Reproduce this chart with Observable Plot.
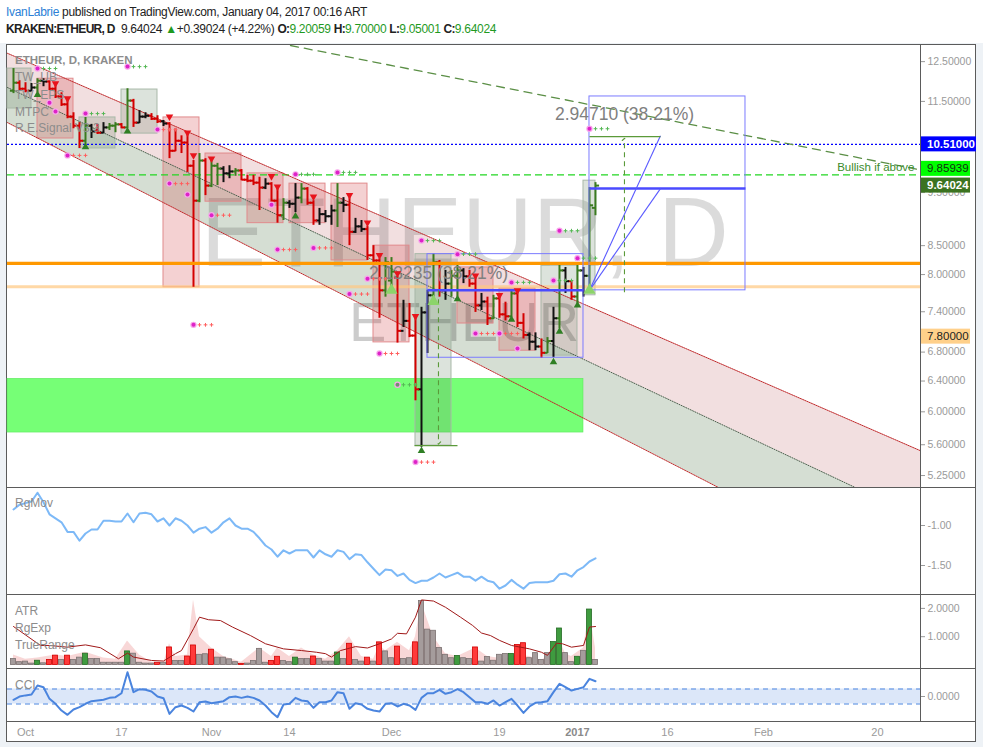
<!DOCTYPE html>
<html>
<head>
<meta charset="utf-8">
<script src="https://cdn.jsdelivr.net/npm/d3@7"></script>
<script src="https://cdn.jsdelivr.net/npm/@observablehq/plot@0.6"></script>
<style>
html,body{margin:0;padding:0;background:#fff;}
#page{position:relative;width:983px;height:747px;overflow:hidden;background:#eef2f6;font-family:"Liberation Sans",Arial,sans-serif;}
#head{position:absolute;left:0;top:0;width:983px;height:43px;background:#fff;}
.hl{position:absolute;left:6px;white-space:nowrap;font-size:12px;color:#222;letter-spacing:-0.3px;}
.hl b{font-weight:bold;letter-spacing:-0.7px;}
.gv{color:#1f9a1f;}
#frame{position:absolute;left:6px;top:44px;width:970px;height:698px;box-sizing:border-box;border:1px solid #5b5b5b;background:#fff;}
.pane{position:absolute;left:6px;}
.hsep{position:absolute;left:6px;width:970px;height:1px;background:#5b5b5b;}
.vsep{position:absolute;left:920px;width:1px;background:#5b5b5b;}
.lg{position:absolute;left:15px;font-size:12px;color:#8c8c8c;white-space:nowrap;line-height:14px;}
</style>
</head>
<body>
<div id="page">
  <div id="head">
    <div class="hl" style="top:5px"><span style="color:#2b7fd6">IvanLabrie</span> published on TradingView.com, January 04, 2017 00:16 ART</div>
    <div class="hl" style="top:22px"><b>KRAKEN:ETHEUR, D</b>&nbsp; 9.64024 <span class="gv">&#9650;</span>+0.39024 (+4.22%) <b>O:</b><span class="gv">9.20059</span> <b>H:</b><span class="gv">9.70000</span> <b>L:</b><span class="gv">9.05001</span> <b>C:</b><span class="gv">9.64024</span></div>
  </div>
  <div id="frame"></div>
</div>
<script>
// ---------------- DATA ----------------
const FIRST_BAR = "2016-09-29";           // first daily bar
const barOpen = [
11.76,11.96,11.81,11.76,11.84,12.01,11.99,11.81,11.62,11.43,
11.14,10.93,10.59,10.93,10.80,10.77,10.89,10.93,10.96,10.89,
11.52,11.00,11.14,11.16,11.09,11.03,10.98,10.37,10.59,10.55,
10.05,9.34,10.16,9.64,10.05,9.99,9.89,9.93,9.95,9.76,
9.74,9.70,9.60,9.68,9.34,9.06,9.30,9.28,9.40,9.58,
9.30,8.96,9.08,9.04,9.15,9.30,9.26,8.75,8.85,8.80,
8.33,8.24,7.74,7.90,7.95,7.11,7.26,7.04,6.29,7.39,
7.66,8.21,7.74,7.85,7.98,8.07,7.97,7.85,7.50,7.56,
7.30,7.61,7.36,7.33,7.69,7.23,7.05,6.95,6.88,6.79,
6.96,7.30,8.07,7.89,7.64,8.07,7.98,9.20059];
const barHigh = [
12.32,12.01,11.96,11.94,12.06,12.06,12.01,11.94,11.71,11.57,
11.23,11.00,11.12,10.96,10.96,11.00,10.98,11.00,10.98,11.81,
11.55,11.28,11.23,11.21,11.16,11.05,11.00,10.86,10.70,10.75,
10.16,10.31,10.20,10.20,10.10,10.03,10.05,9.99,9.97,9.85,
9.85,9.81,9.78,9.70,9.58,9.38,9.34,9.68,9.68,9.60,
9.34,9.19,9.15,9.25,9.68,9.40,9.40,9.00,8.96,8.85,
8.50,8.27,8.29,8.29,7.97,7.58,7.53,7.31,7.47,7.74,
8.36,8.24,8.07,8.07,8.19,8.10,8.07,7.95,7.69,7.63,
7.66,7.63,7.55,7.74,7.71,7.37,7.08,7.08,6.99,7.01,
7.47,8.19,8.12,7.90,8.19,8.12,9.60,9.70];
const barLow = [
11.69,11.76,11.71,11.74,11.71,11.86,11.76,11.57,11.38,11.09,
10.86,10.42,10.48,10.64,10.73,10.75,10.82,10.77,10.86,10.86,
10.89,10.98,11.09,11.05,10.98,10.91,10.20,10.35,10.31,9.91,
7.79,9.30,9.44,9.60,9.64,9.70,9.78,9.83,9.74,9.70,
9.64,9.15,9.56,9.25,8.91,8.96,9.19,9.11,9.28,9.25,
8.87,8.87,8.92,8.87,8.83,9.11,8.50,8.72,8.74,8.24,
8.15,7.30,7.63,7.79,6.93,7.16,7.01,6.14,5.57,6.78,
7.63,7.63,7.58,7.63,7.63,7.85,7.79,7.39,7.42,7.19,
7.28,7.30,7.26,7.31,7.16,6.99,6.82,6.82,6.71,6.78,
6.72,7.14,7.69,7.58,7.53,7.63,7.72,9.05001];
const barClose = [
11.96,11.81,11.76,11.84,12.01,11.99,11.81,11.62,11.43,11.14,
10.93,10.59,10.93,10.80,10.77,10.89,10.93,10.96,10.89,11.52,
11.00,11.14,11.16,11.09,11.03,10.98,10.37,10.59,10.55,10.05,
9.34,10.16,9.64,10.05,9.99,9.89,9.93,9.95,9.76,9.74,
9.70,9.60,9.68,9.34,9.06,9.30,9.28,9.40,9.58,9.30,
8.96,9.08,9.04,9.15,9.30,9.26,8.75,8.85,8.80,8.33,
8.24,7.74,8.21,8.05,7.11,7.26,7.04,6.29,7.39,7.66,
8.21,7.74,7.85,7.98,8.07,7.97,7.85,7.50,7.56,7.30,
7.61,7.36,7.33,7.69,7.23,7.05,6.95,6.88,6.79,6.96,
7.30,8.07,7.89,7.64,8.07,7.98,9.25,9.64024];
const barColor = [
"g","r","r","k","g","k","r","r","r","r",
"r","r","g","k","r","k","g","g","r","g",
"r","k","k","r","r","k","r","r","r","r",
"r","g","r","g","g","k","k","g","r","r",
"r","r","k","r","r","g","k","k","g","r",
"r","k","k","k","g","k","r","k","k","r",
"r","r","g","g","r","k","r","r","k","k",
"g","r","k","g","g","k","r","r","k","r",
"g","r","r","g","r","r","k","k","r","g",
"k","g","k","r","g","k","g","g"];

// RgMov indicator (one value per bar)
const rgMov = [
-0.80,-0.74,-0.72,-0.70,-0.59,-0.71,-0.86,-0.91,-0.96,-1.08,
-1.08,-1.19,-1.10,-1.05,-1.05,-0.94,-0.94,-0.95,-0.95,-0.85,
-0.96,-0.85,-0.84,-0.86,-0.95,-0.91,-1.00,-0.91,-0.94,-1.00,
-1.09,-1.04,-1.02,-1.09,-1.04,-0.96,-0.91,-1.00,-1.04,-1.04,
-1.08,-1.16,-1.25,-1.30,-1.39,-1.31,-1.35,-1.31,-1.31,-1.31,
-1.40,-1.31,-1.36,-1.39,-1.31,-1.33,-1.42,-1.36,-1.37,-1.46,
-1.54,-1.62,-1.55,-1.56,-1.63,-1.60,-1.68,-1.72,-1.69,-1.69,
-1.65,-1.60,-1.65,-1.62,-1.59,-1.64,-1.64,-1.69,-1.64,-1.69,
-1.71,-1.79,-1.75,-1.68,-1.74,-1.79,-1.72,-1.71,-1.71,-1.71,
-1.69,-1.61,-1.60,-1.64,-1.56,-1.52,-1.45,-1.41];

// True range histogram
const trueRange = [
0.21,0.10,0.12,0.05,0.15,0.06,0.18,0.33,0.18,0.33,
0.18,0.26,0.40,0.21,0.21,0.08,0.08,0.08,0.08,0.48,
0.40,0.08,0.05,0.05,0.08,0.08,0.62,0.14,0.14,0.30,
0.69,0.36,0.38,0.54,0.26,0.26,0.20,0.10,0.04,0.05,
0.14,0.57,0.08,0.14,0.29,0.14,0.10,0.26,0.21,0.21,
0.30,0.21,0.12,0.12,0.44,0.21,0.75,0.18,0.12,0.26,
0.12,0.80,0.48,0.24,0.65,0.21,0.24,0.80,2.26,1.25,
1.21,0.60,0.36,0.24,0.32,0.24,0.21,0.62,0.12,0.28,
0.15,0.36,0.39,0.39,0.71,0.77,0.24,0.42,0.18,0.42,
0.81,1.29,0.42,0.10,0.29,0.50,1.96,0.18];
const trRedBars = [6,7,9,24,26,29,30,33,38,43,44,50,56,59,61,64,67,77,84,85];
const trGreenBars = [4,12,19,47,54,74,83,90,91,94,96];
// RgExp area: [bar index, value]
const rgExpPts = [[0,0.35],[2,0.2],[4,0.25],[7,0.35],[9,0.3],[12,0.45],[15,0.25],[17,0.2],[19,0.85],[21,0.35],[23,0.1],[25,0.05],[26,0.75],[27,0.3],[29,0.35],[30,2.3],[31,1.0],[33,0.6],[35,0.3],[38,0.1],[41,0.6],[43,0.3],[44,0.6],[46,0.3],[48,0.6],[50,0.35],[52,0.2],[54,0.5],[56,1.0],[58,0.3],[60,0.2],[61,0.7],[62,0.5],[64,0.8],[66,0.5],[67,1.0],[68,2.2],[70,1.0],[72,0.4],[74,0.3],[77,0.6],[79,0.3],[82,0.2],[84,0.35],[86,0.3],[88,0.15],[90,0.5],[91,0.9],[92,0.4],[93,0.3],[95,0.6],[96,1.9],[97,0.6]];
// ATR line: [bar index, value]
const atrPts = [[0,1.36],[4.5,0.69],[6,0.69],[9,0.63],[12,0.71],[14.5,0.61],[17.5,0.22],[19,0.42],[20,0.28],[23,0.16],[25,0.14],[27,0.40],[28,0.51],[30,1.28],[31,1.69],[32.5,1.60],[34.5,1.57],[36.5,1.34],[39.5,1.04],[42,0.75],[45,0.57],[48,0.51],[50.5,0.45],[52,0.40],[53,0.28],[54.5,0.51],[57,0.65],[59,0.60],[61,0.75],[63,0.92],[64,1.12],[65.5,1.10],[67,1.69],[68,2.30],[70,2.26],[72,2.04],[74.5,1.69],[76.5,1.40],[78,1.13],[79.5,1.04],[81,0.87],[83,0.69],[84.5,0.63],[86,0.57],[88,0.45],[89,0.34],[90.5,0.77],[91.5,0.75],[93,0.63],[95,0.69],[96,1.34],[97,1.36]];

// CCI (one value per bar)
const cci = [
-44,0,15,27,147,124,-31,-97,-187,-244,
-173,-142,-97,-62,-53,-44,-18,-9,44,324,
58,98,89,67,0,-22,-231,-142,-120,-151,
-200,-76,-67,-89,-76,-62,-9,0,-18,0,
-18,-53,-120,-209,-276,-107,-97,-18,-53,-62,
-151,-76,-76,-53,58,44,-164,-89,-107,-164,
-187,-200,-97,-89,-133,-97,-120,-178,-18,44,
44,89,36,58,98,58,-9,-76,-76,-97,
-53,-120,-76,-31,-120,-218,-133,-84,-76,-62,
58,169,124,80,102,124,236,204];

// axes (10.5 and 7.0 sit under the coloured price labels, 9.5 peeks out below one)
const priceTicks = [12.5, 11.5, 9.5, 8.5, 8.0, 7.4, 6.8, 6.4, 6.0, 5.6, 5.25];
const xTickDates = ["2016-10-01","2016-10-17","2016-11-01","2016-11-14","2016-12-01","2016-12-19","2017-01-01","2017-01-16","2017-02-01","2017-02-20"];
const xTickLabels = ["Oct","17","Nov","14","Dec","19","2017","16","Feb","20"];
const rgMovTicks = [-1.0, -1.5];
const atrTicks = [1, 2];
const cciTicks = [0];

// price scale labels
const priceLabelText = ["10.51000", "9.85939", "9.64024", "7.80000"];
const priceLabelValue = [10.51, 9.85939, 9.64024, 7.8];

// horizontal levels
const levelOrange = 8.19, levelOrangeFaint = 7.8, levelBlue = 10.51, levelGreen = 9.85939;
// support zone (bar index range, price range)
const zone = {from: -1, to: 95, top: 6.43, bottom: 5.745};
// regression channel: [bar index, upper, middle, lower]
const channelPts = [[-1, 12.72, 11.84, 11.00], [151.17, 5.53, 4.80, 4.12]];
// descending trend line: [bar index, price]
const trendPts = [[46.17, 12.93], [150.83, 9.97]];
// indicator boxes: [from bar, to bar, top, bottom, kind]
const boxes = [
[-1,3,12.32,11.33,"g"],[4,10,12.06,10.64,"p"],[11,17,11.12,10.42,"g"],[18,24,11.79,10.75,"g"],
[25,31,11.12,7.79,"p"],[32,38,10.31,9.32,"p"],[39,45,9.89,8.91,"p"],[46,52,9.68,8.91,"p"],
[53,59,9.68,8.24,"p"],[60,66,8.50,6.94,"p"],[67,73,8.35,5.59,"g"],[74,80,8.12,7.22,"p"],
[81,87,7.77,6.82,"p"],[88,94,8.15,6.75,"g"],[95,97,9.74,7.66,"g"]];
// signals: [bar index, price, plus colour]
const signals = [[4,12.32,"g"],[19,12.37,"g"],[6,11.47,""],[7,11.26,""],[9,10.27,"r"],[12,11.21,"g"],[24,10.84,"r"],[26,9.68,"r"],[29,9.46,""],[30,7.20,"r"],[33,9.06,"r"],[43,9.26,""],[44,8.43,"r"],[47,9.87,"g"],[50,8.46,"r"],[54,9.91,"g"],[56,7.68,"r"],[59,7.93,"r"],[61,6.78,"r"],[64,6.35,"g"],[67,5.40,"r"],[68,8.59,"g"],[74,8.35,"g"],[77,7.07,"r"],[81,7.07,"r"],[83,7.87,"g"],[84,6.85,""],[90,7.90,"g"],[91,8.77,"g"],[94,8.28,"g"],[96,10.86,"g"]];
const triDown = [[7,11.94],[9,11.57],[26,11.14],[29,10.77],[30,10.27],[33,10.20],[43,9.83],[44,9.62],[50,9.42],[56,9.45],[59,8.92],[61,8.33],[64,8.02],[67,7.33],[77,7.98],[81,7.66],[84,7.74]];
const triUp = [[4,11.66],[12,10.45],[19,10.80],[47,9.04],[68,5.53],[74,7.60],[83,7.28],[90,6.66],[91,7.10],[94,7.50]];
const triUpBig = [[63,7.74],[70,7.56],[96,7.74]];
// price-range measurement tools
const measureBoxes = [[69, 95, 8.35, 6.72], [96, 122, 11.62, 7.74]];
const measureMid = [[69, 95, 7.74], [96, 122, 9.58]];
const measureDiag = [[96, 7.74, 107.83, 10.70], [96, 7.74, 107.83, 9.58]];
const measureTargetLine = [[96, 107.83, 10.68], [66.83, 74, 5.59]];
const measureArrow = [[101.83, 7.71, 10.62], [70.83, 7.74, 5.62]];
const measureText = [[101.83, 11.05, "2.94710 (38.21%)"], [70.83, 7.93, "2.13235 (38.21%)"]];
const watermark = [[75.2, 8.15, "ETHEUR, D", 98], [75.1, 6.96, "ETHEUR", 56]];

// ---------------- HELPERS ----------------
const DAY = 864e5;
const T0 = +new Date(FIRST_BAR + "T00:00:00Z");
const dt = i => new Date(T0 + i * DAY);
const X0 = dt(-1), X1 = dt(151.17);
const FONT = '"Liberation Sans", Arial, sans-serif';
const BAR_COL = {g: "#3a7b1f", r: "#d40000", k: "#111111"};
const page = document.getElementById("page");
function place(el, top) {
  const w = document.createElement("div");
  w.className = "pane"; w.style.top = top + "px";
  w.appendChild(el); page.appendChild(w); return el;
}
const common = {width: 970, marginTop: 0, marginBottom: 0, marginLeft: 1, marginRight: 56};
const xOpt = {type: "utc", domain: [X0, X1], axis: null};

// ---------------- MAIN PRICE PANE ----------------
const bars = barOpen.map((o, i) => ({date: dt(i), open: o, high: barHigh[i], low: barLow[i], close: barClose[i], col: BAR_COL[barColor[i]]}));
const chan = channelPts.map(d => ({date: dt(d[0]), upper: d[1], middle: d[2], lower: d[3]}));
const plusPts = signals.filter(s => s[2]).flatMap(s => [1, 2, 3].map(k => ({date: dt(s[0] + k), p: s[1], c: s[2] === "g" ? "#55b855" : "#ff6060"})));
const TICK = 0.6 * DAY;

const main = place(Plot.plot({
  ...common, height: 442,
  style: {background: "transparent", color: "#9a9a9a", fontFamily: FONT, fontSize: "10.5px", overflow: "visible"},
  x: xOpt,
  y: {type: "log", domain: [5.12, 12.93], axis: "right", ticks: priceTicks, tickFormat: d => d.toFixed(5), tickSize: 4, tickPadding: 3, label: null},
  color: {type: "identity"},
  marks: [
    Plot.areaY(chan, {x: "date", y1: "upper", y2: "middle", fill: "#be5f64", fillOpacity: 0.2, clip: true}),
    Plot.areaY(chan, {x: "date", y1: "middle", y2: "lower", fill: "#577b4f", fillOpacity: 0.25, clip: true}),
    Plot.rect([zone], {x1: d => dt(d.from), x2: d => dt(d.to), y1: "top", y2: "bottom", fill: "#70ff70", fillOpacity: 0.96, stroke: "#5ee85e", strokeWidth: 0.6}),
    Plot.text(watermark.slice(0, 1), {x: d => dt(d[0]), y: d => d[1], text: d => d[2], fontSize: 98, lineAnchor: "bottom", fill: "#000", fillOpacity: 0.14, fontFamily: FONT}),
    Plot.text(watermark.slice(1), {x: d => dt(d[0]), y: d => d[1], text: d => d[2], fontSize: 56, lineAnchor: "bottom", fill: "#000", fillOpacity: 0.2, fontFamily: FONT}),
    Plot.rect(boxes, {x1: d => dt(d[0]), x2: d => dt(d[1]), y1: d => d[2], y2: d => d[3],
      fill: d => d[4] === "p" ? "#d33f43" : "#5f7f5f", fillOpacity: d => d[4] === "p" ? 0.24 : 0.22,
      stroke: d => d[4] === "p" ? "#e08a8c" : "#a8b8a8", strokeWidth: 1}),
    Plot.ruleY([levelOrangeFaint], {stroke: "#ffc880", strokeWidth: 3, strokeOpacity: 0.7}),
    Plot.ruleY([levelBlue], {stroke: "#0000ff", strokeWidth: 1.2, strokeDasharray: "2,2"}),
    Plot.ruleY([levelGreen], {stroke: "#22d622", strokeWidth: 1.3, strokeDasharray: "7,4"}),
    Plot.line(chan, {x: "date", y: "upper", stroke: "#c0282a", strokeWidth: 1, strokeDasharray: "1,1", clip: true}),
    Plot.line(chan, {x: "date", y: "middle", stroke: "#4d5e4d", strokeWidth: 1, strokeDasharray: "1,1.5", clip: true}),
    Plot.line(chan, {x: "date", y: "lower", stroke: "#c0282a", strokeWidth: 1, strokeDasharray: "1,1", clip: true}),
    Plot.line(trendPts, {x: d => dt(d[0]), y: d => d[1], stroke: "#5b8f46", strokeWidth: 1.3, strokeDasharray: "8,6", clip: true}),
    // OHLC bars
    Plot.ruleX(bars, {x: "date", y1: "low", y2: "high", stroke: "col", strokeWidth: 2}),
    Plot.link(bars, {x1: d => new Date(+d.date - TICK), x2: "date", y1: "open", y2: "open", stroke: "col", strokeWidth: 2}),
    Plot.link(bars, {x1: "date", x2: d => new Date(+d.date + TICK), y1: "close", y2: "close", stroke: "col", strokeWidth: 2}),
    Plot.ruleY([levelOrange], {stroke: "#ff9800", strokeWidth: 3.2}),
    // measurement tools
    Plot.rect(measureBoxes, {x1: d => dt(d[0]), x2: d => dt(d[1]), y1: d => d[2], y2: d => d[3], fill: "none", stroke: "#7b7bff", strokeWidth: 1}),
    Plot.link(measureMid, {x1: d => dt(d[0]), x2: d => dt(d[1]), y1: d => d[2], y2: d => d[2], stroke: "#4a4aff", strokeWidth: 2.5}),
    Plot.link(measureDiag, {x1: d => dt(d[0]), y1: d => d[1], x2: d => dt(d[2]), y2: d => d[3], stroke: "#5a5aff", strokeWidth: 1.1}),
    Plot.link(measureTargetLine, {x1: d => dt(d[0]), x2: d => dt(d[1]), y1: d => d[2], y2: d => d[2], stroke: "#5b9a3a", strokeWidth: 1.2}),
    Plot.link(measureArrow, {x1: d => dt(d[0]), x2: d => dt(d[0]), y1: d => d[1], y2: d => d[2], stroke: "#5b9a3a", strokeWidth: 1.1, strokeDasharray: "5,4", markerEnd: "arrow"}),
    Plot.text(measureText, {x: d => dt(d[0]), y: d => d[1], text: d => d[2], fontSize: 17.5, lineAnchor: "bottom", fill: "#808080", fontFamily: FONT}),
    // signals
    Plot.dot(triUpBig, {x: d => dt(d[0]), y: d => d[1], symbol: "triangle", r: 4.5, fill: "#8cd46a"}),
    Plot.dot(triDown, {x: d => dt(d[0]), y: d => d[1], symbol: "triangle", r: 2.8, fill: "#e8141c", rotate: 180}),
    Plot.dot(triUp, {x: d => dt(d[0]), y: d => d[1], symbol: "triangle", r: 2.8, fill: "#2f7f24"}),
    Plot.dot(plusPts, {x: "date", y: "p", symbol: "plus", r: 1.3, stroke: "c", strokeWidth: 1}),
    Plot.dot(signals, {x: d => dt(d[0]), y: d => d[1], r: 3.2, fill: "#f7a6ea"}),
    Plot.dot(signals, {x: d => dt(d[0]), y: d => d[1], r: 2, fill: d => d[0] === 64 ? "#6f8f6f" : "#dd22c8"}),
    Plot.text(["Bullish if above"], {frameAnchor: "right", y: [9.93], text: d => d, textAnchor: "end", dx: -6, fontSize: 11.5, fill: "#3c8c2c", fontFamily: FONT, lineAnchor: "bottom"})
  ]
}), 45);

// price-scale labels, positioned with Plot's own y scale
{
  const ys = main.scale("y");
  const svg = d3.select(main);
  const bgs = ["#0000ff", "#00ff00", "#3b7320", "#ffd08a"];
  const fgs = ["#ffffff", "#12300f", "#ffffff", "#222222"];
  const shifts = [0, -6, 0, 50];
  const widths = [56, 50, 50, 50];
  priceLabelText.forEach((t, k) => {
    const y = ys.apply(priceLabelValue[k]) + shifts[k];
    svg.append("rect").attr("x", 914).attr("y", y - 7.5).attr("width", widths[k]).attr("height", 15).attr("fill", bgs[k]);
    svg.append("text").attr("x", 921).attr("y", y).attr("dy", "0.35em").attr("fill", fgs[k]).attr("text-anchor", "start")
      .attr("font-size", 11.5).attr("font-weight", k === 1 || k === 3 ? "normal" : "bold").attr("font-family", FONT).text(t);
  });
}

// ---------------- RgMov PANE ----------------
place(Plot.plot({
  ...common, height: 106,
  style: {background: "transparent", color: "#9a9a9a", fontFamily: FONT, fontSize: "10.5px"},
  x: xOpt,
  y: {domain: [-1.8625, -0.5375], axis: "right", ticks: rgMovTicks, tickFormat: d => d.toFixed(2), tickSize: 4, tickPadding: 3, label: null},
  marks: [
    Plot.line(rgMov.map((v, i) => ({date: dt(i), v})), {x: "date", y: "v", stroke: "#7db9f7", strokeWidth: 2})
  ]
}), 488);

// ---------------- ATR PANE ----------------
const trData = trueRange.map((v, i) => ({date: dt(i), v, kind: trRedBars.includes(i) ? "r" : trGreenBars.includes(i) ? "g" : "n"}));
const TRF = {r: "#ff3a3a", g: "#3f9b3f", n: "#a59c9c"}, TRS = {r: "#d00000", g: "#256b25", n: "#7b7171"};
place(Plot.plot({
  ...common, height: 73,
  style: {background: "transparent", color: "#9a9a9a", fontFamily: FONT, fontSize: "10.5px"},
  x: xOpt,
  y: {domain: [-0.124, 2.456], axis: "right", ticks: atrTicks, tickFormat: d => d.toFixed(4), tickSize: 4, tickPadding: 3, label: null},
  color: {type: "identity"},
  marks: [
    Plot.areaY(rgExpPts, {x: d => dt(d[0]), y: d => d[1], fill: "#f3bcbc", fillOpacity: 0.6}),
    Plot.rectY(trData, {x1: d => new Date(+d.date - 0.42 * DAY), x2: d => new Date(+d.date + 0.42 * DAY), y: "v", fill: d => TRF[d.kind], stroke: d => TRS[d.kind], strokeWidth: 0.8}),
    Plot.line(atrPts, {x: d => dt(d[0]), y: d => d[1], stroke: "#a01818", strokeWidth: 1})
  ]
}), 595);

// ---------------- CCI PANE ----------------
place(Plot.plot({
  ...common, height: 52,
  style: {background: "transparent", color: "#9a9a9a", fontFamily: FONT, fontSize: "10.5px"},
  x: xOpt,
  y: {domain: [-333, 360], axis: "right", ticks: cciTicks, tickFormat: d => d.toFixed(4), tickSize: 4, tickPadding: 3, label: null},
  marks: [
    Plot.rect([{a: X0, b: X1}], {x1: "a", x2: "b", y1: -100, y2: 100, fill: "#dce7f9"}),
    Plot.ruleY([-100, 100], {stroke: "#4a86e0", strokeWidth: 1.2, strokeDasharray: "5,4"}),
    Plot.line(cci.map((v, i) => ({date: dt(i), v})), {x: "date", y: "v", stroke: "#4a84de", strokeWidth: 2})
  ]
}), 669);

// ---------------- TIME AXIS ----------------
const xTicks = xTickDates.map((d, k) => ({date: new Date(d + "T00:00:00Z"), label: xTickLabels[k]}));
place(Plot.plot({
  ...common, height: 19,
  style: {background: "transparent", fontFamily: FONT},
  x: xOpt, y: {axis: null, domain: [0, 1]},
  marks: [
    Plot.text(xTicks.filter(d => d.label !== "2017"), {x: "date", text: "label", frameAnchor: "middle", fill: "#9a9a9a", fontSize: 11}),
    Plot.text(xTicks.filter(d => d.label === "2017"), {x: "date", text: "label", frameAnchor: "middle", fill: "#8a8a8a", fontSize: 11, fontWeight: "bold"})
  ]
}), 722);

// ---------------- FRAME LINES & LEGENDS ----------------
[487, 594, 668, 721].forEach(y => {
  const s = document.createElement("div"); s.className = "hsep"; s.style.top = y + "px"; page.appendChild(s);
});
{
  const v = document.createElement("div"); v.className = "vsep"; v.style.top = "44px"; v.style.height = "678px"; page.appendChild(v);
}
const legends = [
  ["ETHEUR, D, KRAKEN", 53, true], ["TW_UB", 70], ["TW_EPS", 88], ["MTPC", 105], ["R.E.Signal V3.3", 121],
  ["RgMov", 496], ["ATR", 604], ["RgExp", 621], ["TrueRange", 638], ["CCI", 678]
];
legends.forEach(([t, top, bold]) => {
  const l = document.createElement("div"); l.className = "lg"; l.style.top = top + "px";
  if (bold) { l.style.fontWeight = "bold"; l.style.fontSize = "11.5px"; }
  l.textContent = t; page.appendChild(l);
});
</script>
</body>
</html>
